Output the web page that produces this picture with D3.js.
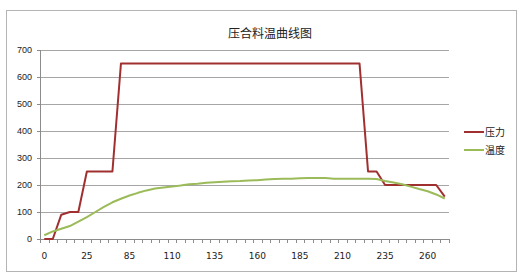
<!DOCTYPE html>
<html>
<head>
    <meta charset="utf-8" />
    <style>
        body {
            margin: 0;
            background: #fff;
            font-family: "DejaVu Sans", "Noto Sans CJK SC", sans-serif;
        }

        .grid line {
            stroke: #a6a6a6;
            shape-rendering: crispEdges;
        }

        .axis path,
        .axis line {
            fill: none;
            stroke: #8c8c8c;
            shape-rendering: crispEdges;
        }

        .axis text {
            fill: #222;
            font-size: 9px;
        }
    </style>
</head>
<body>
    <svg width="526" height="280"></svg>
    <script src="https://d3js.org/d3.v7.min.js"></script>
    <script>
        var title = "压合料温曲线图";
        var seriesNames = ["压力", "温度"];

        // 48 time points, label shown on every 5th one
        var xLabels = ["0", "25", "85", "110", "135", "160", "185", "210", "235", "260"];
        var yTicks = [0, 100, 200, 300, 400, 500, 600, 700];

        var pressure = [0, 0, 90, 100, 100, 250, 250, 250, 250, 650,
            650, 650, 650, 650, 650, 650, 650, 650, 650, 650,
            650, 650, 650, 650, 650, 650, 650, 650, 650, 650,
            650, 650, 650, 650, 650, 650, 650, 650, 250, 250,
            200, 200, 200, 200, 200, 200, 200, 157];

        var temperature = [14, 28, 38, 48, 64, 81, 100, 119, 136, 149,
            161, 171, 180, 187, 191, 194, 198, 203, 205, 208,
            210, 212, 214, 215, 217, 218, 220, 222, 223, 223,
            225, 226, 226, 226, 223, 223, 223, 223, 223, 222,
            215, 209, 203, 194, 185, 177, 165, 150];

        var colors = ["#a0302f", "#9bbb59"];

        var svg = d3.select("svg");
        var plot = { left: 40, right: 449, top: 50, bottom: 239 };

        // outer chart frame
        svg.append("rect")
            .attr("x", 6.5)
            .attr("y", 10.5)
            .attr("width", 510)
            .attr("height", 261)
            .attr("fill", "#fff")
            .attr("stroke", "#b4b4b4");

        svg.append("text")
            .attr("x", 270)
            .attr("y", 38)
            .attr("text-anchor", "middle")
            .style("font-family", "'Noto Sans CJK SC', sans-serif")
            .style("font-size", "12px")
            .attr("fill", "#222")
            .text(title);

        var idx = d3.range(pressure.length);

        var x = d3.scaleBand()
            .domain(idx)
            .range([plot.left, plot.right])
            .padding(0);

        var y = d3.scaleLinear()
            .domain([0, 700])
            .range([plot.bottom, plot.top]);

        function cx(i) { return x(i) + x.bandwidth() / 2; }

        //horizontal grid lines
        svg.append("g")
            .attr("class", "grid")
            .selectAll("line")
            .data(yTicks.slice(1))
            .enter().append("line")
            .attr("x1", plot.left)
            .attr("x2", plot.right)
            .attr("y1", function (d) { return Math.round(y(d)) + 0.5; })
            .attr("y2", function (d) { return Math.round(y(d)) + 0.5; });

        //y axis
        svg.append("g")
            .attr("class", "axis")
            .attr("transform", "translate(" + plot.left + ",0)")
            .call(d3.axisLeft(y).tickValues(yTicks).tickSize(3).tickPadding(5));

        //x axis: ticks on band edges, labels on centers
        var xAxisG = svg.append("g")
            .attr("class", "axis")
            .attr("transform", "translate(0," + Math.round(plot.bottom) + ")");

        xAxisG.append("line")
            .attr("x1", plot.left)
            .attr("x2", plot.right)
            .attr("y1", 0.5)
            .attr("y2", 0.5);

        xAxisG.selectAll(".tk")
            .data(d3.range(pressure.length + 1))
            .enter().append("line")
            .attr("class", "tk")
            .attr("x1", function (d) { return Math.round(plot.left + d * x.step()) + 0.5; })
            .attr("x2", function (d) { return Math.round(plot.left + d * x.step()) + 0.5; })
            .attr("y1", 0)
            .attr("y2", 4);

        xAxisG.selectAll("text")
            .data(xLabels)
            .enter().append("text")
            .attr("x", function (d, i) { return cx(i * 5); })
            .attr("y", 20)
            .attr("text-anchor", "middle")
            .text(function (d) { return d; });

        var line = d3.line()
            .x(function (d, i) { return cx(i); })
            .y(function (d) { return y(d); });

        [pressure, temperature].forEach(function (s, k) {
            svg.append("path")
                .datum(s)
                .attr("fill", "none")
                .attr("stroke", colors[k])
                .attr("stroke-width", 2)
                .attr("stroke-linejoin", "round")
                .attr("d", line);
        });

        //legend
        var legend = svg.append("g")
            .attr("transform", "translate(464,132)");

        var item = legend.selectAll("g")
            .data(seriesNames)
            .enter().append("g")
            .attr("transform", function (d, i) { return "translate(0," + i * 18 + ")"; });

        item.append("line")
            .attr("x1", 0)
            .attr("x2", 20)
            .attr("stroke", function (d, i) { return colors[i]; })
            .attr("stroke-width", 2);

        item.append("text")
            .attr("x", 21)
            .attr("y", 4)
            .style("font-family", "'Noto Sans CJK SC', sans-serif")
            .style("font-size", "10px")
            .attr("fill", "#222")
            .text(function (d) { return d; });
    </script>
</body>
</html>
